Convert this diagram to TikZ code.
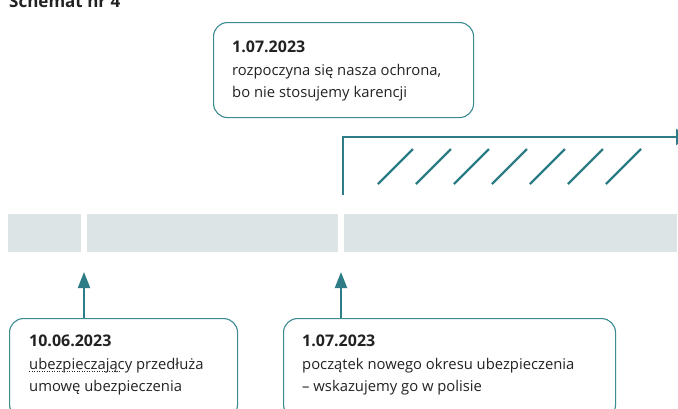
\documentclass[tikz,border=0pt]{standalone}
\usepackage{fontspec}
\setmainfont{Open Sans}
\usetikzlibrary{positioning}
\usetikzlibrary{calc}
\usetikzlibrary{arrows.meta}

\definecolor{tealline}{HTML}{2E7C85}
\definecolor{tealbox}{HTML}{3B8B93}
\definecolor{bargrey}{HTML}{DCE4E6}
\definecolor{txtgrey}{HTML}{222222}

\newcommand{\datum}[1]{{\bfseries\fontsize{16}{22.5}\selectfont #1}}

\tikzset{
  barpart/.style={fill=bargrey, inner sep=0pt, outer sep=0pt, minimum height=38pt},
  infobox/.style={draw=tealbox, line width=1.1pt, rounded corners=14pt, inner sep=0pt, anchor=north west},
  infotext/.style={align=left, inner sep=0pt, anchor=north west, text=txtgrey,
    font=\fontsize{14.8}{22.5}\selectfont},
  pointer/.style={tealline, line width=2pt, -{Triangle[length=16pt,width=12pt]}},
}

\begin{document}
\begin{tikzpicture}[x=1pt,y=-1pt]
\useasboundingbox (0,0) rectangle (678,408);
\node[
  anchor=base west, inner sep=0pt, text=txtgrey,
  font=\bfseries\fontsize{17}{20}\selectfont] (title) at (9,7) {Schemat nr 4};

% time bar
\node[barpart, minimum width=73pt, anchor=north west] (seg1) at (8,214) {};
\node[barpart, minimum width=251pt, right=6pt of seg1] (seg2) {};
\node[barpart, minimum width=333pt, right=6pt of seg2] (seg3) {};

% boxes
\node[infobox, minimum width=260pt, minimum height=95pt] (boxtop) at (213,22) {};
\node[infotext] (txttop) at ($(boxtop.north west)+(19,19)$)
  {\datum{1.07.2023}\\rozpoczyna się nasza ochrona,\\bo nie stosujemy karencji};
\node[infobox, minimum width=228pt, minimum height=100pt] (boxleft) at (9,318) {};
\node[infotext] (txtleft) at ($(boxleft.north west)+(20,17)$)
  {\datum{10.06.2023}\\ubezpieczający przedłuża\\umowę ubezpieczenia};
\draw[txtgrey, line width=0.9pt, dash pattern=on 0.9pt off 1.6pt]
  ($(txtleft.north west)+(0,36)$) -- ++(92,0);
\node[infobox, minimum width=332pt, minimum height=100pt] (boxright) at (283,318) {};
\node[infotext] (txtright) at ($(boxright.north west)+(19,17)$)
  {\datum{1.07.2023}\\początek nowego okresu ubezpieczenia\\– wskazujemy go w polisie};

% pointers to the bar
\coordinate (gap1) at ($(seg1.south east)!0.5!(seg2.south west)+(0,20)$);
\coordinate (gap2) at ($(seg2.south east)!0.5!(seg3.south west)+(0,20)$);
\draw[pointer] (boxleft.north -| gap1) -- (gap1);
\draw[pointer] (boxright.north -| gap2) -- (gap2);

% protection period
\coordinate (start) at ($(seg3.north west)+(-1,-19)$);
\coordinate (far) at (688,137);
\draw[tealline, line width=2.6pt, -{Triangle[length=12pt,width=16pt]}] (start) |- (far);
\foreach \i in {0,...,6}
  \draw[tealline, line width=2.2pt] (378+38*\i,184) -- ++(35,-35);
\end{tikzpicture}
\end{document}
